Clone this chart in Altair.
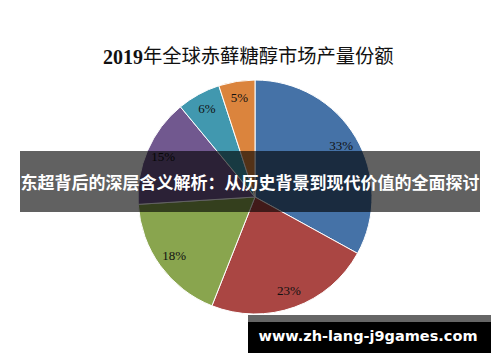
import altair as alt
import pandas as pd

# Market share by producer, clockwise from 12 o'clock
shares = [33, 23, 18, 15, 6, 5]
labels = ["33%", "23%", "18%", "15%", "6%", "5%"]
colors = ["#4572A7", "#AA4643", "#89A54E", "#71588F", "#4198AF", "#DB843D"]
order = [1, 2, 3, 4, 5, 6]

title_year = "2019"
title_rest = "年全球赤藓糖醇市场产量份额"
banner_text = "东超背后的深层含义解析：从历史背景到现代价值的全面探讨"
site_text = "www.zh-lang-j9games.com"

df = pd.DataFrame({"share": shares, "label": labels, "color": colors, "order": order})

W, H = 500, 362
CX, CY, R = 255, 197, 117

base = alt.Chart(df).encode(
    theta=alt.Theta("share:Q", stack=True, scale=alt.Scale(range=[0, 6.283185307])),
    order=alt.Order("order:Q"),
)

pie = base.mark_arc(outerRadius=R, stroke="white", strokeWidth=1).encode(
    color=alt.Color("color:N", scale=None),
    x=alt.value(CX),
    y=alt.value(CY),
)

pct = base.mark_text(
    radius=100, font="Liberation Serif", fontSize=13, color="#111111"
).encode(text="label:N", x=alt.value(CX), y=alt.value(CY))

one = pd.DataFrame({"t": [0]})

# Title: bold serif year followed by the Chinese caption
title_a = alt.Chart(one).mark_text(
    font="Liberation Serif", fontSize=20, fontWeight="bold",
    color="#111111", align="right", baseline="middle",
).encode(x=alt.value(143), y=alt.value(58), text=alt.value(title_year))

title_b = alt.Chart(one).mark_text(
    font="Noto Sans CJK SC", fontSize=19.3, fontWeight="normal",
    color="#111111", align="left", baseline="middle",
).encode(x=alt.value(143), y=alt.value(57), text=alt.value(title_rest))

banner = alt.Chart(one).mark_rect(color="black", opacity=0.62).encode(
    x=alt.value(20), x2=alt.value(480), y=alt.value(151), y2=alt.value(212)
)
banner_label = alt.Chart(one).mark_text(
    font="Noto Sans CJK SC", fontSize=17, fontWeight="bold", color="white",
    align="center", baseline="middle",
).encode(x=alt.value(250), y=alt.value(184), text=alt.value(banner_text))

site_strip = alt.Chart(one).mark_rect(color="#666666").encode(
    x=alt.value(248), x2=alt.value(491), y=alt.value(315), y2=alt.value(322)
)
site_box = alt.Chart(one).mark_rect(color="black").encode(
    x=alt.value(248), x2=alt.value(491), y=alt.value(322), y2=alt.value(353)
)
site_label = alt.Chart(one).mark_text(
    font="DejaVu Sans", fontSize=14.5, fontWeight="bold", color="white",
    align="center", baseline="middle",
).encode(x=alt.value(368), y=alt.value(337), text=alt.value(site_text))

chart = alt.layer(
    pie, pct, title_a, title_b, banner, banner_label, site_strip, site_box, site_label
).properties(
    width=W, height=H, padding=0, autosize="none", background="white"
).configure_view(stroke=None)

chart.save("out.html", embed_options={"renderer": "svg", "actions": False})
